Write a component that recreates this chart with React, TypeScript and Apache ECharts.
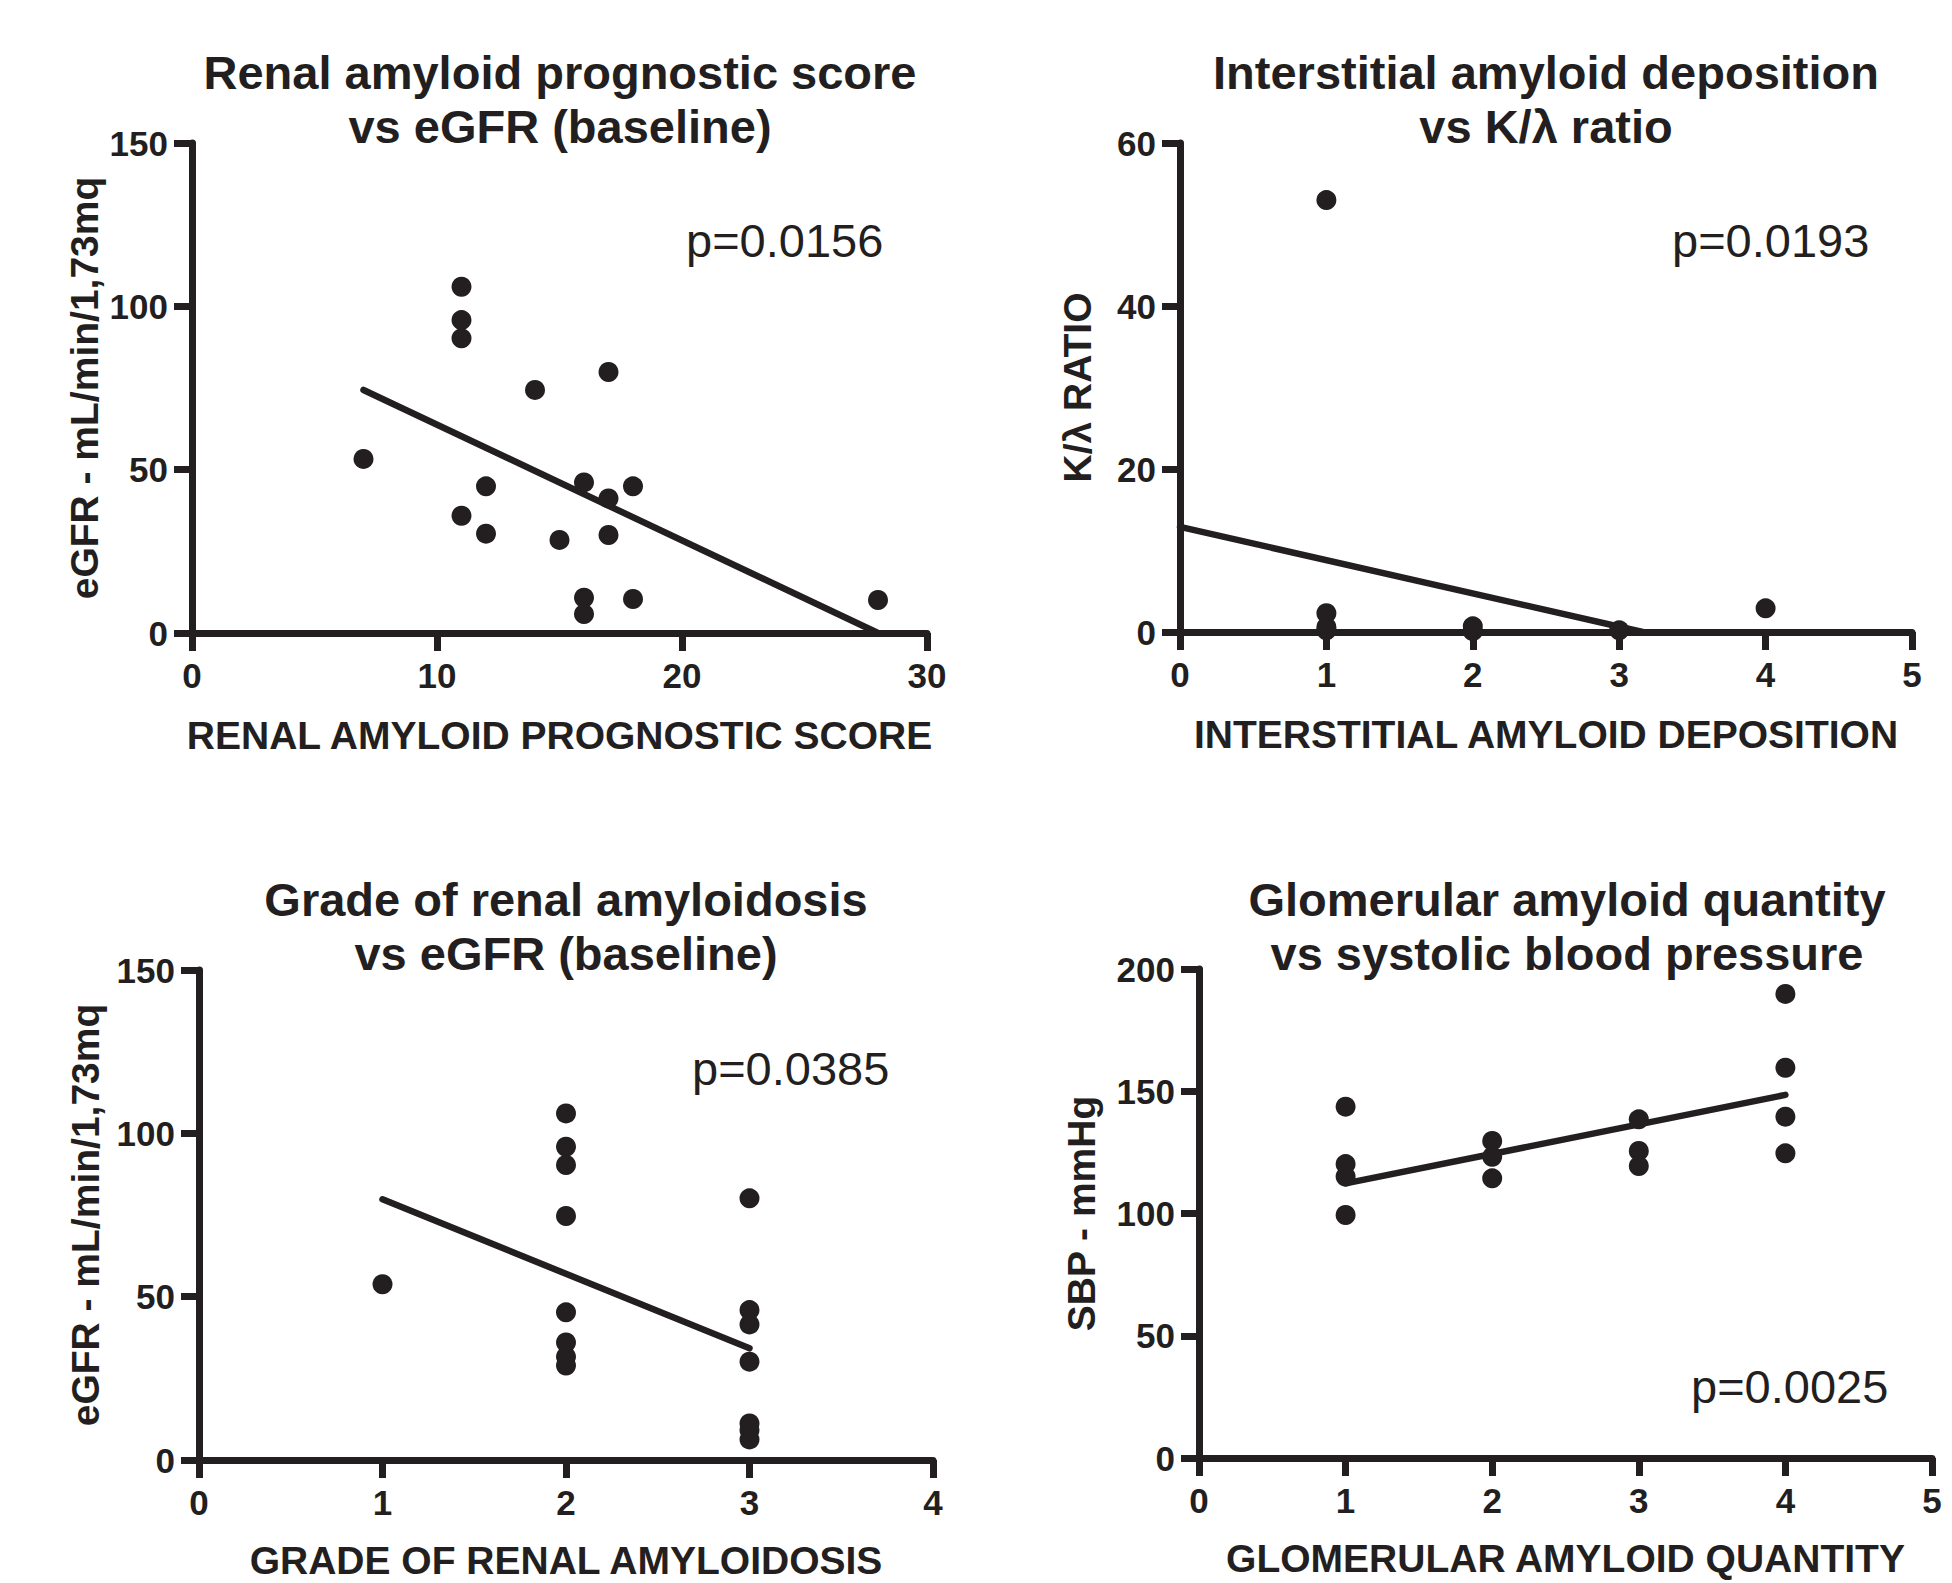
import React, { useEffect, useRef } from "react";
import * as echarts from "echarts";

// ---------- Panel 1: Renal amyloid prognostic score vs eGFR ----------
const p1Title = "Renal amyloid prognostic score\nvs eGFR (baseline)";
const p1XName = "RENAL AMYLOID PROGNOSTIC SCORE";
const p1YName = "eGFR - mL/min/1,73mq";
const p1X = [7, 11, 11, 11, 11, 12, 12, 14, 15, 16, 16, 16, 17, 17, 17, 18, 18, 28];
const p1Y = [53.3, 106.0, 95.8, 90.2, 35.9, 44.9, 30.4, 74.4, 28.5, 46.1, 10.8, 5.8, 79.9, 41.2, 30.0, 44.9, 10.4, 10.1];
const p1FitX = [7, 28];
const p1FitY = [74.4, 0];
const p1P = "p=0.0156";
const p1XTicks = { min: 0, max: 30, interval: 10 };
const p1YTicks = { min: 0, max: 150, interval: 50 };

// ---------- Panel 2: Interstitial amyloid deposition vs K/λ ratio ----------
const p2Title = "Interstitial amyloid deposition\nvs K/λ ratio";
const p2XName = "INTERSTITIAL AMYLOID DEPOSITION";
const p2YName = "K/λ RATIO";
const p2X = [1, 1, 1, 1, 2, 2, 3, 4];
const p2Y = [53.0, 2.3, 0.6, 0.2, 0.7, 0.1, 0.2, 2.9];
const p2FitX = [0, 3.16];
const p2FitY = [12.9, 0];
const p2P = "p=0.0193";
const p2XTicks = { min: 0, max: 5, interval: 1 };
const p2YTicks = { min: 0, max: 60, interval: 20 };

// ---------- Panel 3: Grade of renal amyloidosis vs eGFR ----------
const p3Title = "Grade of renal amyloidosis\nvs eGFR (baseline)";
const p3XName = "GRADE OF RENAL AMYLOIDOSIS";
const p3YName = "eGFR - mL/min/1,73mq";
const p3X = [1, 2, 2, 2, 2, 2, 2, 2, 2, 3, 3, 3, 3, 3, 3, 3];
const p3Y = [53.8, 106.1, 95.9, 90.3, 74.7, 45.2, 36.0, 31.6, 28.9, 80.1, 45.9, 41.5, 30.1, 11.2, 9.2, 6.3];
const p3FitX = [1, 3];
const p3FitY = [79.8, 34.2];
const p3P = "p=0.0385";
const p3XTicks = { min: 0, max: 4, interval: 1 };
const p3YTicks = { min: 0, max: 150, interval: 50 };

// ---------- Panel 4: Glomerular amyloid quantity vs SBP ----------
const p4Title = "Glomerular amyloid quantity\nvs systolic blood pressure";
const p4XName = "GLOMERULAR AMYLOID QUANTITY";
const p4YName = "SBP - mmHg";
const p4X = [1, 1, 1, 1, 2, 2, 2, 3, 3, 3, 4, 4, 4, 4];
const p4Y = [143.7, 120.2, 115.1, 99.4, 129.7, 123.2, 114.4, 138.5, 125.6, 119.4, 189.8, 159.6, 139.6, 124.6];
const p4FitX = [1, 4];
const p4FitY = [112.3, 148.5];
const p4P = "p=0.0025";
const p4XTicks = { min: 0, max: 5, interval: 1 };
const p4YTicks = { min: 0, max: 200, interval: 50 };

// ---------- styling / layout ----------
const INK = "#231f20";
const FONT = "'Liberation Sans', Arial, Helvetica, sans-serif";

const panels = [
  {
    title: p1Title, xName: p1XName, yName: p1YName, x: p1X, y: p1Y, fitX: p1FitX, fitY: p1FitY, p: p1P,
    xt: p1XTicks, yt: p1YTicks,
    grid: { left: 192, top: 143, width: 735, height: 490 },
    titleX: 560, titleTop: 45, xGap: 83, yGap: 88, pX: 686, pY: 240,
  },
  {
    title: p2Title, xName: p2XName, yName: p2YName, x: p2X, y: p2Y, fitX: p2FitX, fitY: p2FitY, p: p2P,
    xt: p2XTicks, yt: p2YTicks,
    grid: { left: 1180, top: 143, width: 732, height: 489 },
    titleX: 1546, titleTop: 45, xGap: 83, yGap: 83, pX: 1672, pY: 240,
  },
  {
    title: p3Title, xName: p3XName, yName: p3YName, x: p3X, y: p3Y, fitX: p3FitX, fitY: p3FitY, p: p3P,
    xt: p3XTicks, yt: p3YTicks,
    grid: { left: 199, top: 970, width: 734, height: 490 },
    titleX: 566, titleTop: 872, xGap: 81, yGap: 94, pX: 692, pY: 1068,
  },
  {
    title: p4Title, xName: p4XName, yName: p4YName, x: p4X, y: p4Y, fitX: p4FitX, fitY: p4FitY, p: p4P,
    xt: p4XTicks, yt: p4YTicks,
    grid: { left: 1199, top: 969, width: 733, height: 489 },
    titleX: 1567, titleTop: 872, xGap: 81, yGap: 98, pX: 1691, pY: 1386,
  },
];

function axisCommon(labelMargin: number) {
  return {
    type: "value" as const,
    splitLine: { show: false },
    axisLine: { show: true, onZero: false, lineStyle: { color: INK, width: 7 } },
    axisTick: { show: true, length: 18, lineStyle: { color: INK, width: 7 } },
    axisLabel: {
      color: INK,
      fontFamily: FONT,
      fontWeight: "bold" as const,
      fontSize: 35,
      margin: labelMargin,
    },
    nameLocation: "middle" as const,
    nameTextStyle: { color: INK, fontFamily: FONT, fontWeight: "bold" as const, fontSize: 39 },
  };
}

function buildOption() {
  const grid: any[] = [];
  const xAxis: any[] = [];
  const yAxis: any[] = [];
  const series: any[] = [];
  const title: any[] = [];
  const graphic: any[] = [];

  panels.forEach((pn, i) => {
    grid.push({ ...pn.grid, containLabel: false });
    xAxis.push({
      ...axisCommon(25),
      gridIndex: i,
      min: pn.xt.min,
      max: pn.xt.max,
      interval: pn.xt.interval,
      name: pn.xName,
      nameGap: pn.xGap,
    });
    yAxis.push({
      ...axisCommon(24),
      gridIndex: i,
      min: pn.yt.min,
      max: pn.yt.max,
      interval: pn.yt.interval,
      name: pn.yName,
      nameGap: pn.yGap,
    });
    series.push({
      type: "line",
      xAxisIndex: i,
      yAxisIndex: i,
      data: pn.fitX.map((v, k) => [v, pn.fitY[k]]),
      showSymbol: false,
      symbol: "none",
      lineStyle: { color: INK, width: 6.5, cap: "round", opacity: 1 },
      z: 3,
      silent: true,
    });
    series.push({
      type: "scatter",
      xAxisIndex: i,
      yAxisIndex: i,
      data: pn.x.map((v, k) => [v, pn.y[k]]),
      symbol: "circle",
      symbolSize: 20,
      itemStyle: { color: INK, opacity: 1 },
      z: 4,
      silent: true,
    });
    title.push({
      text: pn.title,
      left: pn.titleX,
      top: pn.titleTop,
      textAlign: "center",
      padding: 0,
      textStyle: { color: INK, fontFamily: FONT, fontWeight: "bold", fontSize: 47, lineHeight: 54 },
    });
    graphic.push({
      type: "text",
      x: pn.pX,
      y: pn.pY,
      style: {
        text: pn.p,
        fill: INK,
        font: `normal 47px ${FONT}`,
        textAlign: "left",
        textVerticalAlign: "middle",
      },
    });
  });

  return {
    animation: false,
    backgroundColor: "#ffffff",
    title,
    grid,
    xAxis,
    yAxis,
    series,
    graphic,
  };
}

export default function App() {
  const ref = useRef<HTMLDivElement>(null);
  useEffect(() => {
    document.body.style.margin = "0";
    const chart = echarts.init(ref.current as HTMLDivElement, null, { renderer: "svg" });
    chart.setOption(buildOption() as any);
    return () => chart.dispose();
  }, []);
  return (
    <div
      ref={ref}
      style={{ position: "absolute", left: 0, top: 0, width: 1952, height: 1583, background: "#ffffff" }}
    />
  );
}
